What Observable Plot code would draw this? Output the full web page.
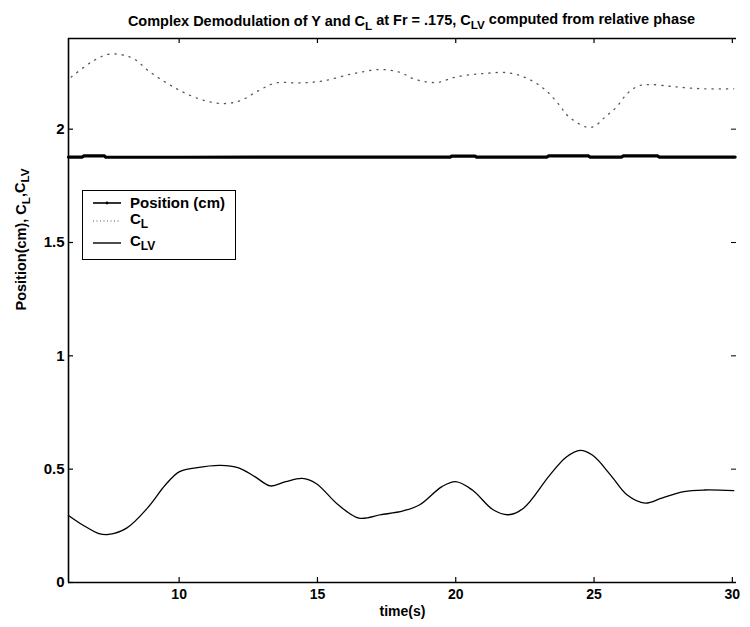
<!DOCTYPE html>
<html>
<head>
<meta charset="utf-8">
<script src="https://cdn.jsdelivr.net/npm/d3@7"></script>
<script src="https://cdn.jsdelivr.net/npm/@observablehq/plot@0.6"></script>
<style>
  html, body { margin: 0; padding: 0; background: #fff; }
  #wrap { position: relative; width: 750px; height: 627px; font-family: "Liberation Sans", Arial, sans-serif; }
  #legend { position: absolute; left: 82px; top: 190px; width: 154px; height: 70px; border: 1px solid #000; background: #fff; box-sizing: border-box; }
</style>
</head>
<body>
<div id="wrap"></div>
<script>
// ---- data ----
const titleText = "Complex Demodulation of Y and C_{L} at Fr = .175, C_{LV} computed from relative phase";
const xLabel = "time(s)";
const yLabel = "Position(cm), C_{L},C_{LV}";
const xDomain = [6, 30.15];
const yDomain = [0, 2.4];
const xTicks = [10, 15, 20, 25, 30];
const yTicks = [0, 0.5, 1, 1.5, 2];
const seriesNames = ["Position (cm)", "C_{L}", "C_{LV}"];

// Position (cm)
const posT = [6.0, 6.5, 6.55, 7.3, 7.35, 10, 15, 19.8, 19.85, 20.7, 20.75, 23.3, 23.35, 24.8, 24.85, 26.0, 26.05, 27.3, 27.35, 30.1];
const posV = [1.877, 1.877, 1.882, 1.882, 1.876, 1.876, 1.877, 1.877, 1.881, 1.881, 1.877, 1.877, 1.882, 1.882, 1.877, 1.877, 1.882, 1.882, 1.877, 1.877];

// C_L (dotted)
const clT = [6.1, 6.8, 7.4, 7.9, 8.35, 8.95, 9.6, 10.2, 10.95, 11.6, 12.2, 12.9, 13.5, 14.35, 15.2, 16.3, 17.25, 17.95, 18.55, 19.3, 20.0, 20.95, 21.95, 22.65, 23.25, 23.75, 24.05, 24.7, 25.0, 25.4, 25.8, 26.2, 26.6, 27.0, 27.7, 28.2, 29.0, 30.05];
const clV = [2.23, 2.294, 2.329, 2.329, 2.311, 2.252, 2.2, 2.16, 2.125, 2.113, 2.125, 2.172, 2.204, 2.204, 2.213, 2.245, 2.263, 2.252, 2.219, 2.206, 2.23, 2.245, 2.248, 2.22, 2.172, 2.106, 2.059, 2.01, 2.012, 2.054, 2.096, 2.157, 2.19, 2.197, 2.19, 2.184, 2.178, 2.178];

// C_LV (solid)
const clvT = [6.0, 6.5, 7.1, 7.45, 8.1, 8.85, 9.5, 10.0, 10.6, 11.5, 12.15, 12.75, 13.3, 13.85, 14.45, 14.95, 15.75, 16.5, 17.3, 18.1, 18.7, 19.5, 20.0, 20.6, 21.35, 21.9, 22.45, 23.4, 24.0, 24.5, 24.95, 25.6, 26.2, 26.85, 27.45, 28.25, 29.0, 30.05];
const clvV = [0.296, 0.255, 0.216, 0.212, 0.24, 0.328, 0.43, 0.488, 0.506, 0.517, 0.506, 0.466, 0.426, 0.445, 0.459, 0.437, 0.343, 0.284, 0.299, 0.316, 0.343, 0.423, 0.445, 0.408, 0.321, 0.299, 0.328, 0.474, 0.554, 0.583, 0.561, 0.474, 0.386, 0.35, 0.372, 0.401, 0.408, 0.405];

// ---- build ----
const pos = posT.map((t, i) => ({t, v: posV[i]}));
const cl = clT.map((t, i) => ({t, v: clV[i]}));
const clv = clvT.map((t, i) => ({t, v: clvV[i]}));

const W = 750, H = 627, mL = 68, mR = 14, mT = 38, mB = 45;
const fw = W - mL - mR, fh = H - mT - mB, tk = 5;
const font = '"Liberation Sans", Arial, sans-serif';

const chart = Plot.plot({
  width: W, height: H,
  marginLeft: mL, marginRight: mR, marginTop: mT, marginBottom: mB,
  style: {fontFamily: font, background: "#fff", overflow: "visible"},
  x: {domain: xDomain, axis: null},
  y: {domain: yDomain, axis: null},
  marks: [
    // frame (left, bottom, top)
    Plot.ruleX([xDomain[0]], {stroke: "#000", strokeWidth: 1.6}),
    Plot.ruleY([yDomain[0]], {stroke: "#000", strokeWidth: 1.6}),
    Plot.ruleY([yDomain[1]], {stroke: "#000", strokeWidth: 1.3}),
    // inward ticks
    Plot.tickX(xTicks, {x: d => d, insetTop: fh - tk, stroke: "#000", strokeWidth: 1.2}),
    Plot.tickX(xTicks, {x: d => d, insetBottom: fh - tk, stroke: "#000", strokeWidth: 1.2}),
    Plot.tickY(yTicks, {y: d => d, insetRight: fw - tk, stroke: "#000", strokeWidth: 1.2}),
    Plot.tickY(yTicks, {y: d => d, insetLeft: fw - tk, stroke: "#000", strokeWidth: 1}),
    // tick labels
    Plot.axisX(xTicks, {anchor: "bottom", tickSize: 0, tickPadding: 7, fontSize: 14, fontWeight: "bold", label: null, tickFormat: d => String(d)}),
    Plot.axisY(yTicks, {anchor: "left", tickSize: 0, tickPadding: 4, fontSize: 15, fontWeight: "bold", label: null, tickFormat: d => String(d)}),
    // series
    Plot.line(cl, {x: "t", y: "v", stroke: "#555", strokeWidth: 1.3, strokeDasharray: "1.2,6", curve: "catmull-rom"}),
    Plot.line(pos, {x: "t", y: "v", stroke: "#000", strokeWidth: 3.2}),
    Plot.line(clv, {x: "t", y: "v", stroke: "#000", strokeWidth: 1.3, curve: "catmull-rom"}),
    // titles
    Plot.text([titleText], {frameAnchor: "top", text: d => d, dy: -23, dx: 9, fontSize: 14.5, fontWeight: "bold", fill: "#000"}),
    Plot.text([xLabel], {frameAnchor: "bottom", text: d => d, dy: 33, fontSize: 14, fontWeight: "bold", fill: "#000"}),
    Plot.text([yLabel], {frameAnchor: "left", text: d => d, rotate: -90, dx: -47, fontSize: 14.5, fontWeight: "bold", fill: "#000"})
  ]
});

// turn _{...} into real subscripts
function subscriptify(textEl) {
  const s = textEl.textContent;
  if (!s.includes("_{")) return;
  textEl.textContent = "";
  const re = /_\{([^}]*)\}/g;
  let last = 0, m, lowered = false;
  const ns = "http://www.w3.org/2000/svg";
  while ((m = re.exec(s))) {
    const a = document.createElementNS(ns, "tspan");
    a.textContent = s.slice(last, m.index);
    if (lowered) a.setAttribute("dy", "-0.35em");
    textEl.appendChild(a);
    const b = document.createElementNS(ns, "tspan");
    b.textContent = m[1];
    b.setAttribute("dy", "0.35em");
    b.setAttribute("font-size", "0.8em");
    textEl.appendChild(b);
    lowered = true;
    last = re.lastIndex;
  }
  const c = document.createElementNS(ns, "tspan");
  c.textContent = s.slice(last);
  if (lowered) c.setAttribute("dy", "-0.35em");
  textEl.appendChild(c);
}
chart.querySelectorAll("text").forEach(subscriptify);

const wrap = document.getElementById("wrap");
wrap.appendChild(chart);

// legend
const legend = document.createElement("div");
legend.id = "legend";
const styles = [
  {stroke: "#000", width: 1.6, dash: null, marker: true},
  {stroke: "#555", width: 1.1, dash: "1,2.5", marker: false},
  {stroke: "#000", width: 1.4, dash: null, marker: false}
];
const rowY = [12, 30, 52];
let html = `<svg width="154" height="70" style="position:absolute;left:0;top:0;font-family:${font.replace(/"/g, "'")}">`;
seriesNames.forEach((name, i) => {
  const st = styles[i];
  const y = rowY[i];
  html += `<line x1="10" x2="38" y1="${y}" y2="${y}" stroke="${st.stroke}" stroke-width="${st.width}" ${st.dash ? `stroke-dasharray="${st.dash}"` : ""}/>`;
  if (st.marker) html += `<circle cx="24" cy="${y}" r="1.4" fill="#000"/>`;
  const parts = name.match(/^(.*?)_\{(.*)\}$/);
  if (parts) {
    html += `<text x="47" y="${y + 3}" font-size="15" font-weight="bold">${parts[1]}<tspan dy="4" font-size="12">${parts[2]}</tspan></text>`;
  } else {
    html += `<text x="47" y="${y + 5}" font-size="15" font-weight="bold">${name}</text>`;
  }
});
html += `</svg>`;
legend.innerHTML = html;
wrap.appendChild(legend);
</script>
</body>
</html>
